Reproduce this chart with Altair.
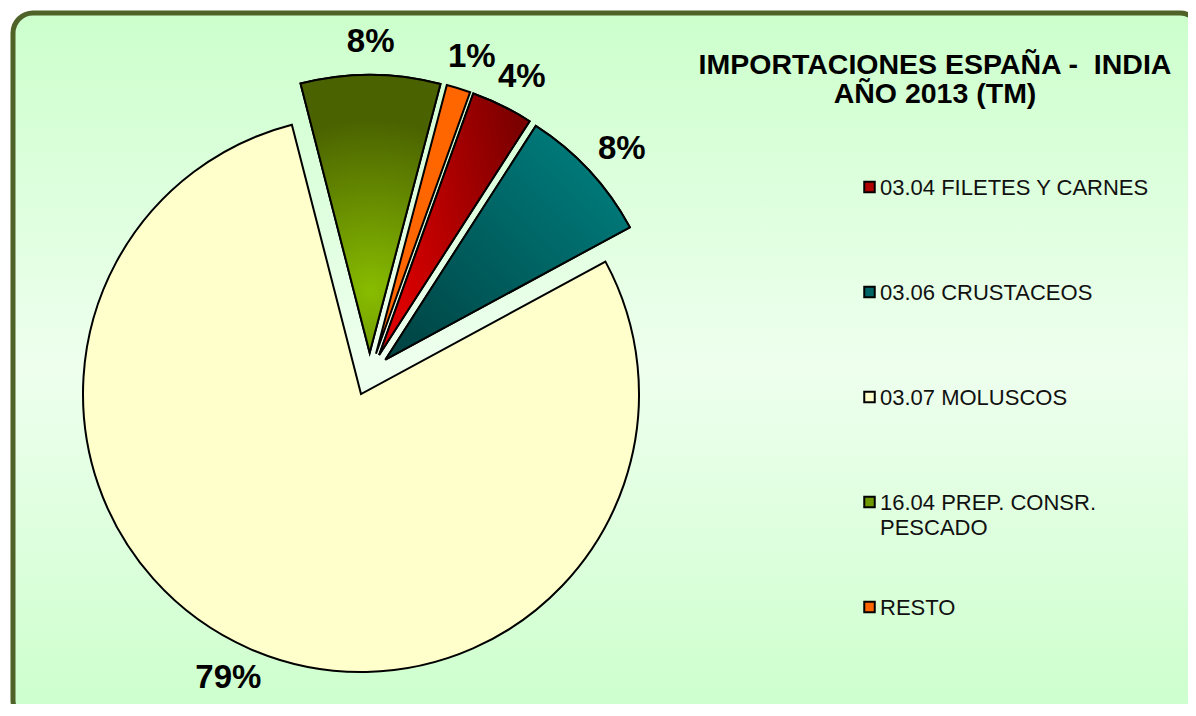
import math
import altair as alt
import pandas as pd

# ---- data ----
categories = ["03.04 FILETES Y CARNES", "03.06 CRUSTACEOS", "03.07 MOLUSCOS",
              "16.04 PREP. CONSR. PESCADO", "RESTO"]
legend_labels = ["03.04 FILETES Y CARNES", "03.06 CRUSTACEOS", "03.07 MOLUSCOS",
                 "16.04 PREP. CONSR.\nPESCADO", "RESTO"]
shares = [3.6, 8.0, 78.9, 8.1, 1.4]          # percent of total imports (TM)
colors = ["#B00000", "#006464", "#FFFFCC", "#6E9800", "#FF6600"]
title_lines = ["IMPORTACIONES ESPAÑA -\u00a0 INDIA", "AÑO 2013 (TM)"]

# ---- layout constants ----
W, H = 1180, 696
START_DEG = 19.8
CX, CY = 361.6, 366.3
R = 278
EXPLODE = 21.5
LABEL_R = 320
LABEL_FS = 33
FONT = "Liberation Sans"

t0 = math.radians(START_DEG)
total = sum(shares)

df = pd.DataFrame({"cat": categories, "label": legend_labels,
                   "value": shares, "order": list(range(len(categories)))})

base = (
    alt.Chart(df)
    .transform_joinaggregate(total="sum(value)")
    .transform_window(cum="sum(value)", sort=[alt.SortField("order")])
    .transform_calculate(start="datum.cum - datum.value")
    .transform_calculate(mid=f"{t0} + 2*PI*(datum.cum - datum.value/2)/datum.total")
    .transform_calculate(pct="format(datum.value/datum.total, '.0%')")
)

color = alt.Color("cat:N", scale=alt.Scale(domain=categories, range=colors), legend=None)

pie_base = base.transform_calculate(
    px=f"{CX} + {EXPLODE}*sin(datum.mid)",
    py=f"{CY} - {EXPLODE}*cos(datum.mid)",
)
geo = dict(
    x=alt.X("px:Q", scale=None),
    y=alt.Y("py:Q", scale=None),
    theta=alt.Theta("start:Q", stack=None,
                    scale=alt.Scale(domain=[0, total], range=[t0, t0 + 2 * math.pi])),
    theta2="cum:Q",
)
arc_style = dict(radius=R, stroke="black", strokeWidth=2, strokeJoin="miter")

pie = pie_base.mark_arc(**arc_style).encode(color=color, **geo)


def stops(c0, c1):
    return [alt.GradientStop(offset=0, color=c0), alt.GradientStop(offset=1, color=c1)]


shade = {
    categories[3]: alt.Gradient(gradient="radial", x1=0.5, y1=0.78, r1=0, x2=0.5, y2=0.78, r2=0.62,
                                stops=stops("#88BC00", "#4A6200")),
    categories[0]: alt.Gradient(gradient="linear", x1=0.1, y1=0.6, x2=1, y2=0.3,
                                stops=stops("#D80000", "#7A0000")),
    categories[1]: alt.Gradient(gradient="linear", x1=0.1, y1=1, x2=0.9, y2=0.2,
                                stops=stops("#004444", "#007A7A")),
}
overlays = [
    pie_base.transform_filter(alt.datum.cat == cat).mark_arc(fill=g, **arc_style).encode(**geo)
    for cat, g in shade.items()
]

halfw = f"0.5*{LABEL_FS}*(0.556*(length(datum.pct)-1) + 0.889)"
halfh = f"0.36*{LABEL_FS}"
labels = (
    base.transform_calculate(
        lx=f"{CX} + {LABEL_R}*sin(datum.mid) + {halfw}*sin(datum.mid)",
        ly=f"{CY} - {LABEL_R}*cos(datum.mid) - {halfh}*cos(datum.mid)",
    )
    .mark_text(font=FONT, fontSize=LABEL_FS, fontWeight="bold", align="center",
               baseline="middle", color="black")
    .encode(x=alt.X("lx:Q", scale=None), y=alt.Y("ly:Q", scale=None), text="pct:N")
)

frame = (
    alt.Chart(pd.DataFrame({"k": [0]}))
    .mark_rect(
        cornerRadius=20, stroke="#4F6228", strokeWidth=5,
        fill=alt.Gradient(
            gradient="linear", x1=0, x2=0, y1=0, y2=1,
            stops=[alt.GradientStop(offset=0, color="#CCFFCC"),
                   alt.GradientStop(offset=0.5, color="#EEFFEE"),
                   alt.GradientStop(offset=1, color="#CCFFCC")],
        ),
    )
    .encode(x=alt.value(5), x2=alt.value(1192), y=alt.value(5), y2=alt.value(712))
)

y_leg = alt.Y("cat:N", sort=categories, axis=None,
              scale=alt.Scale(type="point", domain=categories, range=[179, 599], padding=0))

squares = (
    alt.Chart(df)
    .mark_square(size=110, stroke="black", strokeWidth=2, opacity=1, filled=True)
    .encode(x=alt.value(861.5), y=y_leg, color=color)
)

leg_text = (
    alt.Chart(df)
    .mark_text(font=FONT, fontSize=22, align="left", baseline="top", dy=-9,
               lineBreak="\n", lineHeight=25, color="#111111")
    .encode(x=alt.value(872), y=y_leg, text="label:N")
)

title = (
    alt.Chart(pd.DataFrame({"k": [0]}))
    .mark_text(text=title_lines, font=FONT, fontSize=28.5, fontWeight="bold",
               align="center", baseline="top", lineHeight=29, color="black")
    .encode(x=alt.value(927), y=alt.value(43))
)

chart = (
    alt.layer(frame, pie, *overlays, labels, squares, leg_text, title)
    .resolve_scale(x="independent", y="independent")
    .properties(width=W, height=H, padding=0,
                autosize=alt.AutoSizeParams(type="none"), background="white")
    .configure_view(stroke=None)
)

chart.save("out.html", embed_options={"renderer": "svg", "actions": False})
